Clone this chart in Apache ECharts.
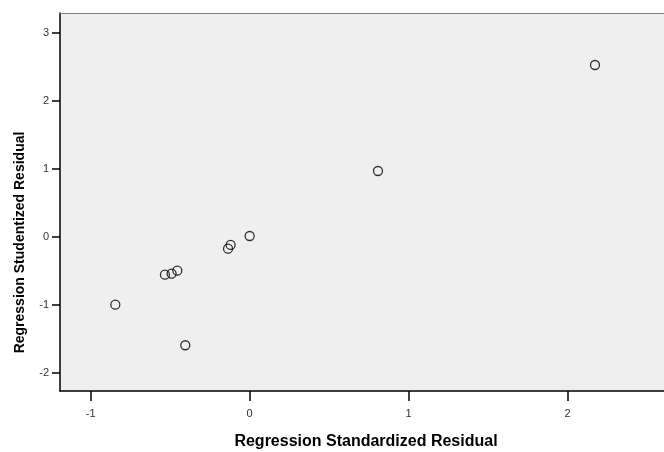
<!DOCTYPE html>
<html>
<head>
<meta charset="utf-8">
<script src="https://cdn.jsdelivr.net/npm/echarts@6/dist/echarts.min.js"></script>
<style>
  html, body { margin: 0; padding: 0; background: #fff; }
  #chart { width: 664px; height: 452px; }
</style>
</head>
<body>
<div id="chart"></div>
<script>
// residual data
var stdResid = [-0.845, -0.405, -0.533, -0.491, -0.455, -0.136, -0.120, 0.000, 0.807, 2.172];
var studResid = [-1.000, -1.597, -0.559, -0.544, -0.500, -0.176, -0.122, 0.010, 0.966, 2.525];
var xTicks = [-1, 0, 1, 2];
var yTicks = [-2, -1, 0, 1, 2, 3];

var points = [];
for (var i = 0; i < stdResid.length; i++) {
    points.push([stdResid[i], studResid[i]]);
}

var font = 'Liberation Sans, Arial, sans-serif';
var myChart = echarts.init(document.getElementById('chart'));

option = {
    animation: false,
    backgroundColor: '#ffffff',
    grid: {
        left: 60, top: 13, right: 0, bottom: 61,
        outerBoundsMode: 'none',
        show: true,
        backgroundColor: '#efefef',
        borderWidth: 0
    },
    xAxis: [{
        type: 'value',
        min: -1.193,
        max: 2.606,
        position: 'bottom',
        name: 'Regression Standardized Residual',
        nameLocation: 'middle',
        nameGap: 43,
        nameTextStyle: { fontFamily: font, fontSize: 16, fontWeight: 'bold', color: '#000', padding: [0, 0, 0, 8] },
        splitLine: { show: false },
        axisLine: { onZero: false, lineStyle: { color: '#000', width: 1.5 } },
        axisTick: { length: 10, lineStyle: { color: '#000', width: 1.5 }, customValues: xTicks },
        axisLabel: { fontFamily: font, fontSize: 11, color: '#333', margin: 17, customValues: xTicks }
    }, {
        type: 'value',
        min: -1.193,
        max: 2.606,
        position: 'top',
        splitLine: { show: false },
        axisLine: { onZero: false, lineStyle: { color: '#808080', width: 1 } },
        axisTick: { show: false },
        axisLabel: { show: false }
    }],
    yAxis: {
        type: 'value',
        min: -2.27,
        max: 3.29,
        name: 'Regression Studentized Residual',
        nameLocation: 'middle',
        nameGap: 33,
        nameTextStyle: { fontFamily: font, fontSize: 14, fontWeight: 'bold', color: '#000', padding: [0, 81, 0, 0] },
        splitLine: { show: false },
        axisLine: { onZero: false, lineStyle: { color: '#000', width: 1.5 } },
        axisTick: { length: 8, lineStyle: { color: '#000', width: 1.5 }, customValues: yTicks },
        axisLabel: { fontFamily: font, fontSize: 11, color: '#333', margin: 11, customValues: yTicks }
    },
    series: [{
        type: 'scatter',
        data: points,
        symbol: 'circle',
        symbolSize: 9,
        itemStyle: { color: 'rgba(0,0,0,0)', borderColor: '#000', borderWidth: 1.3 }
    }]
};
myChart.setOption(option);
</script>
</body>
</html>
